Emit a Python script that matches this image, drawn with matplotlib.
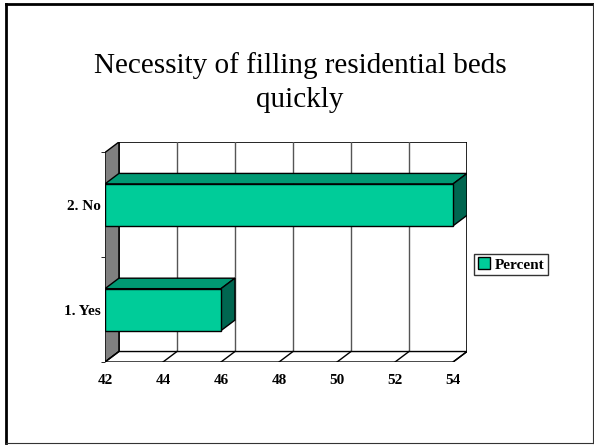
import matplotlib.pyplot as plt
from matplotlib.patches import Polygon
from matplotlib.lines import Line2D

# data
categories = ['1. Yes', '2. No']
percent = [46, 54]
x_ticks = [42, 44, 46, 48, 50, 52, 54]
title_lines = ['Necessity of filling residential beds', 'quickly']

x0, x1 = 42, 54
dx, dy = 0.48, 0.1      # depth of the fake 3d box
bar_h = 0.4
face = '#00CC99'
top_c = '#009973'
side_c = '#006650'

plt.rcParams['font.family'] = ['Liberation Serif', 'DejaVu Serif']

fig = plt.figure(figsize=(5.94, 4.45), dpi=100)
ax = fig.add_axes([105 / 594, 83 / 445, 362 / 594, 220 / 445])
ax.set_xlim(x0, x1 + dx)
ax.set_ylim(-0.5, 1.5 + dy)
for s in ax.spines.values():
    s.set_visible(False)

# back wall + gridlines
ax.add_patch(Polygon([(x0 + dx, -0.5 + dy), (x1 + dx, -0.5 + dy), (x1 + dx, 1.5 + dy), (x0 + dx, 1.5 + dy)],
                     closed=True, facecolor='white', edgecolor='black', lw=1.2, zorder=1))
for t in x_ticks[1:-1]:
    ax.plot([t + dx, t + dx], [-0.5 + dy, 1.5 + dy], color='#555555', lw=1, zorder=1)

# left wall
ax.add_patch(Polygon([(x0, -0.5), (x0, 1.5), (x0 + dx, 1.5 + dy), (x0 + dx, -0.5 + dy)],
                     closed=True, facecolor='#808080', edgecolor='black', lw=1, zorder=2))
# floor
ax.add_patch(Polygon([(x0, -0.5), (x1, -0.5), (x1 + dx, -0.5 + dy), (x0 + dx, -0.5 + dy)],
                     closed=True, facecolor='white', edgecolor='black', lw=1, zorder=2))
for t in x_ticks:
    ax.plot([t, t + dx], [-0.5, -0.5 + dy], color='black', lw=1, zorder=2)

# bars
ys = list(range(len(categories)))
ax.barh(ys, [p - x0 for p in percent], left=x0, height=bar_h, color=face,
        edgecolor='black', lw=1, zorder=4)
for y, v in zip(ys, percent):
    yt, yb = y + bar_h / 2, y - bar_h / 2
    ax.add_patch(Polygon([(x0, yt), (v, yt), (v + dx, yt + dy), (x0 + dx, yt + dy)],
                         closed=True, facecolor=top_c, edgecolor='black', lw=1, zorder=3))
    ax.add_patch(Polygon([(v, yb), (v, yt), (v + dx, yt + dy), (v + dx, yb + dy)],
                         closed=True, facecolor=side_c, edgecolor='black', lw=1, zorder=3))

# axis labels
ax.set_xticks(x_ticks)
ax.set_xticklabels([str(t) for t in x_ticks], fontsize=11, fontweight='bold')
ax.tick_params(axis='x', length=0, pad=9)
ax.set_yticks(ys)
ax.set_yticklabels(categories, fontsize=11, fontweight='bold')
ax.tick_params(axis='y', length=0, pad=3)
ax.set_yticks([-0.5, 0.5, 1.5], minor=True)
ax.tick_params(axis='y', which='minor', length=3, color='black')

# legend
h = [plt.Rectangle((0, 0), 1, 1, facecolor=face, edgecolor='black')]
leg = fig.legend(h, ['Percent'], loc='center left', bbox_to_anchor=(474 / 594, 1 - 264.5 / 445),
                 prop={'weight': 'bold', 'size': 11}, fancybox=False, framealpha=1,
                 handlelength=0.8, handleheight=0.8, handletextpad=0.3, borderpad=0.25,
                 borderaxespad=0)
leg.get_frame().set_edgecolor('#333333')

# title, two lines
fig.text(300 / 594, 1 - 73 / 445, title_lines[0], ha='center', va='baseline', fontsize=21)
fig.text(300 / 594, 1 - 107 / 445, title_lines[1], ha='center', va='baseline', fontsize=21)

# slide border
fig.add_artist(Line2D([5.5 / 594, 5.5 / 594], [1 - 443 / 445, 1 - 4 / 445], transform=fig.transFigure, color='black', lw=2))
fig.add_artist(Line2D([5.5 / 594, 593 / 594], [1 - 4 / 445, 1 - 4 / 445], transform=fig.transFigure, color='black', lw=2))
fig.add_artist(Line2D([593 / 594, 593 / 594], [1 - 443 / 445, 1 - 4 / 445], transform=fig.transFigure, color='#333333', lw=0.8))
fig.add_artist(Line2D([5.5 / 594, 593 / 594], [1 - 443 / 445, 1 - 443 / 445], transform=fig.transFigure, color='#333333', lw=0.8))

fig.savefig('out.png', dpi=100)
